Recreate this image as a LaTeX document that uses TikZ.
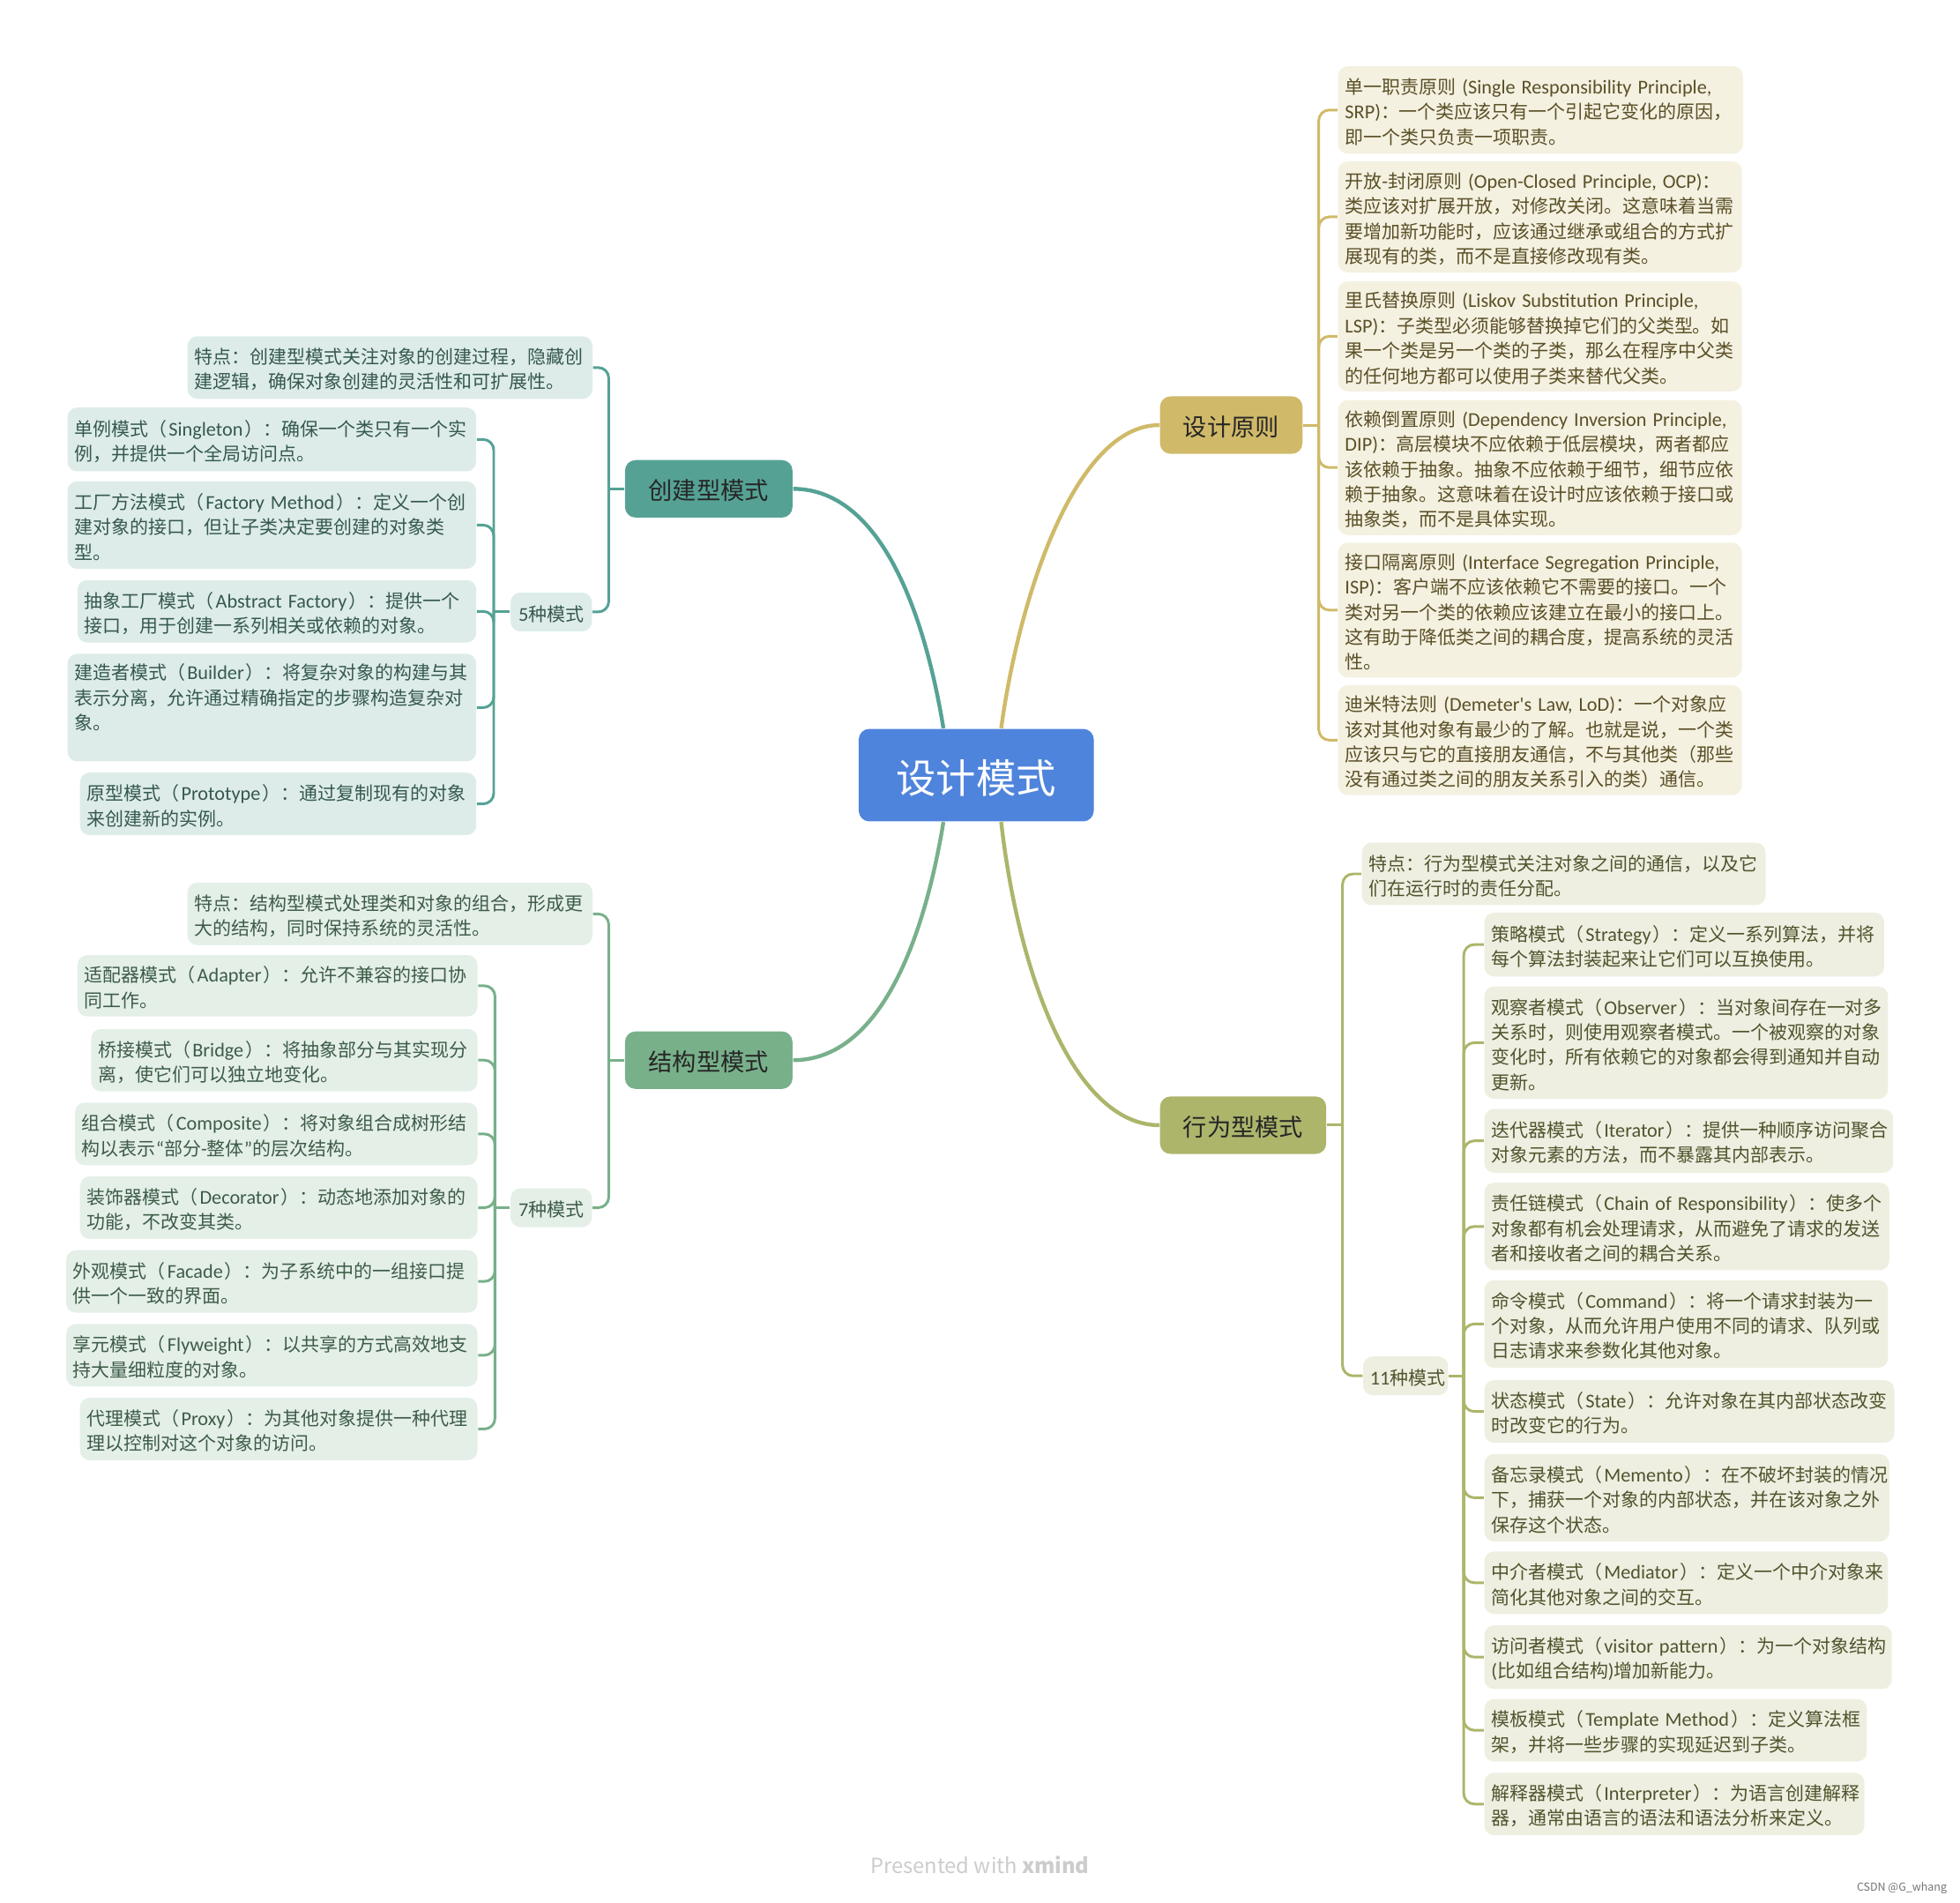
\documentclass[tikz,border=0pt]{standalone}
\usepackage{fontspec}
\setmainfont{Noto Sans CJK SC}
\newfontfamily\latinfont[Scale=1.06]{Carlito}
\newcommand{\en}[1]{{\latinfont #1}}
\newcommand{\modename}[1]{（\kern0.6pt\en{#1}\kern0.6pt）：}
\newcommand{\unitpx}{0.14177mm}
\definecolor{rootblue}{HTML}{4F84DC}
\definecolor{creline}{HTML}{55A295}
\definecolor{crefill}{HTML}{DDECE9}
\definecolor{cretext}{HTML}{35584F}
\definecolor{strline}{HTML}{78B08A}
\definecolor{strfill}{HTML}{E4EFE8}
\definecolor{strtext}{HTML}{3D5C47}
\definecolor{priline}{HTML}{D0BA69}
\definecolor{prifill}{HTML}{F4F1E1}
\definecolor{pritext}{HTML}{5A4F26}
\definecolor{behline}{HTML}{ADB56B}
\definecolor{behfill}{HTML}{EEEFE1}
\definecolor{behtext}{HTML}{50542C}
\tikzset{
  wh/.style 2 args={text width=#1*\unitpx-11*\unitpx,minimum height=#2*\unitpx},
  leaf/.style={anchor=west,rounded corners=1.1mm,align=left,inner xsep=5.5*\unitpx,inner ysep=0pt,font=\fontsize{5.97}{8.07}\selectfont,
    execute at begin node={\hyphenpenalty=10000\exhyphenpenalty=10000\rule{0pt}{6.3pt}}},
  crebox/.style={leaf,fill=crefill,text=cretext},
  strbox/.style={leaf,fill=strfill,text=strtext},
  pribox/.style={leaf,fill=prifill,text=pritext},
  behbox/.style={leaf,fill=behfill,text=behtext},
  topic/.style={rounded corners=1.2mm,inner sep=0pt,minimum height=46*\unitpx,text=black!85,font=\fontsize{7.75}{9}\selectfont,
    execute at begin node={\rule{0pt}{7.6pt}}},
  curve/.style={line width=1.25pt},
  stub/.style={line width=0.85pt},
  bus/.style={line width=0.85pt,rounded corners=1.2mm}
}
\begin{document}
\begin{tikzpicture}[x=0.14177mm,y=-0.14177mm]
\useasboundingbox (0,0) rectangle (1568,1522);

\node[fill=rootblue,rounded corners=1.2mm,inner sep=0pt,minimum width=188*\unitpx,minimum height=74*\unitpx,text=white,font=\fontsize{12.9}{15}\selectfont,execute at begin node={\rule{0pt}{12.9pt}}] (root) at (781,620) {设计模式};

\node[topic,fill=creline,minimum width=134*\unitpx] (cre) at (567,391) {创建型模式};
\node[topic,fill=strline,minimum width=134*\unitpx] (str) at (567,848) {结构型模式};
\node[topic,fill=priline,minimum width=114*\unitpx] (pri) at (985,340) {设计原则};
\node[topic,fill=behline,minimum width=133*\unitpx] (beh) at (994.5,900) {行为型模式};

\draw[curve,creline] (cre.east) .. controls +(66,0) and +(-17,-103) .. (root.125);
\draw[curve,priline] (pri.west) .. controls +(-68,0) and +(14,-103) .. (root.62);
\draw[curve,strline] (str.east) .. controls +(66,0) and +(-17,103) .. (root.235);
\draw[curve,behline] (beh.west) .. controls +(-68,0) and +(14,123) .. (root.298);

\node[crebox,wh={324}{50}] (crenote) at (149.5,294) {特点：创建型模式关注对象的创建过程，隐藏创\\建逻辑，确保对象创建的灵活性和可扩展性。};
\node[crebox,wh={65}{31},align=center] (crekinds) at (408,489.5) {\en{5}种模式};
\node[crebox,wh={327}{51}] (single) at (53.5,351.5) {单例模式\modename{Singleton}确保一个类只有一个实\\例，并提供一个全局访问点。};
\node[crebox,wh={327}{70}] (factory) at (53.5,420) {工厂方法模式\modename{Factory~Method}定义一个创\\建对象的接口，但让子类决定要创建的对象类\\型。};
\node[crebox,wh={319}{50}] (abstract) at (61.5,489) {抽象工厂模式\modename{Abstract~Factory}提供一个\\接口，用于创建一系列相关或依赖的对象。};
\node[crebox,wh={327}{86}] (builder) at (53.5,566) {建造者模式\modename{Builder}将复杂对象的构建与其\\表示分离，允许通过精确指定的步骤构造复杂对\\象。\\\mbox{}};
\node[crebox,wh={317}{50}] (proto) at (63.5,643) {原型模式\modename{Prototype}通过复制现有的对象\\来创建新的实例。};

\coordinate (crehub) at (487,391);
\coordinate (crekindshub) at (395,489.5);
\draw[stub,creline] (cre.west) -- (crehub);
\draw[stub,creline] (crekinds.west) -- (crekindshub);
\foreach \leafname in {crenote,crekinds}
  \draw[bus,creline] (crehub) |- (\leafname.east);
\foreach \leafname in {single,factory,abstract,builder,proto}
  \draw[bus,creline] (crekindshub) |- (\leafname.east);

\node[strbox,wh={324}{50}] (strnote) at (149.5,731) {特点：结构型模式处理类和对象的组合，形成更\\大的结构，同时保持系统的灵活性。};
\node[strbox,wh={65}{31},align=center] (strkinds) at (408,966) {\en{7}种模式};
\node[strbox,wh={320}{49}] (adapter) at (61.5,788.5) {适配器模式\modename{Adapter}允许不兼容的接口协\\同工作。};
\node[strbox,wh={309}{50}] (bridge) at (72.5,848) {桥接模式\modename{Bridge}将抽象部分与其实现分\\离，使它们可以独立地变化。};
\node[strbox,wh={322}{50}] (composite) at (59.5,907) {组合模式\modename{Composite}将对象组合成树形结\\构以表示\en{“}部分\en{-}整体\en{”}的层次结构。};
\node[strbox,wh={318}{50}] (decorator) at (63.5,966) {装饰器模式\modename{Decorator}动态地添加对象的\\功能，不改变其类。};
\node[strbox,wh={329}{50}] (facade) at (52.5,1025) {外观模式\modename{Facade}为子系统中的一组接口提\\供一个一致的界面。};
\node[strbox,wh={329}{50}] (flyweight) at (52.5,1084) {享元模式\modename{Flyweight}以共享的方式高效地支\\持大量细粒度的对象。};
\node[strbox,wh={318}{50}] (proxy) at (63.5,1143) {代理模式\modename{Proxy}为其他对象提供一种代理\\理以控制对这个对象的访问。};

\coordinate (strhub) at (487,848);
\coordinate (strkindshub) at (396,966);
\draw[stub,strline] (str.west) -- (strhub);
\draw[stub,strline] (strkinds.west) -- (strkindshub);
\foreach \leafname in {strnote,strkinds}
  \draw[bus,strline] (strhub) |- (\leafname.east);
\foreach \leafname in {adapter,bridge,composite,decorator,facade,flyweight,proxy}
  \draw[bus,strline] (strkindshub) |- (\leafname.east);

\node[pribox,wh={324}{70}] (srp) at (1070,88) {单一职责原则\en{~(Single~Responsibility~Principle,}\\\en{SRP)}：一个类应该只有一个引起它变化的原因，\\即一个类只负责一项职责。};
\node[pribox,wh={323}{89}] (ocp) at (1070,173.5) {开放\en{-}封闭原则\en{~(Open-Closed~Principle,~OCP)}：\\类应该对扩展开放，对修改关闭。这意味着当需\\要增加新功能时，应该通过继承或组合的方式扩\\展现有的类，而不是直接修改现有类。};
\node[pribox,wh={323}{88}] (lsp) at (1070,269) {里氏替换原则\en{~(Liskov~Substitution~Principle,}\\\en{LSP)}：子类型必须能够替换掉它们的父类型。如\\果一个类是另一个类的子类，那么在程序中父类\\的任何地方都可以使用子类来替代父类。};
\node[pribox,wh={323}{108}] (dip) at (1070,374) {依赖倒置原则\en{~(Dependency~Inversion~Principle,}\\\en{DIP)}：高层模块不应依赖于低层模块，两者都应\\该依赖于抽象。抽象不应依赖于细节，细节应依\\赖于抽象。这意味着在设计时应该依赖于接口或\\抽象类，而不是具体实现。};
\node[pribox,wh={323}{108}] (isp) at (1070,488) {接口隔离原则\en{~(Interface~Segregation~Principle,}\\\en{ISP)}：客户端不应该依赖它不需要的接口。一个\\类对另一个类的依赖应该建立在最小的接口上。\\这有助于降低类之间的耦合度，提高系统的灵活\\性。};
\node[pribox,wh={323}{88}] (lod) at (1070,592) {迪米特法则\en{~(Demeter's~Law,~LoD)}：一个对象应\\该对其他对象有最少的了解。也就是说，一个类\\应该只与它的直接朋友通信，不与其他类（那些\\没有通过类之间的朋友关系引入的类）通信。};

\coordinate (prihub) at (1055,340);
\draw[stub,priline] (pri.east) -- (prihub);
\foreach \leafname in {srp,ocp,lsp,dip,isp,lod}
  \draw[bus,priline] (prihub) |- (\leafname.west);

\node[behbox,wh={323}{50}] (behnote) at (1089,699) {特点：行为型模式关注对象之间的通信，以及它\\们在运行时的责任分配。};
\node[behbox,wh={68}{31},align=center] (behkinds) at (1090,1100.5) {\en{11}种模式};
\node[behbox,wh={320}{51}] (strategy) at (1187,755.5) {策略模式\modename{Strategy}定义一系列算法，并将\\每个算法封装起来让它们可以互换使用。};
\node[behbox,wh={323}{90}] (observer) at (1187,834) {观察者模式\modename{Observer}当对象间存在一对多\\关系时，则使用观察者模式。一个被观察的对象\\变化时，所有依赖它的对象都会得到通知并自动\\更新。};
\node[behbox,wh={327}{51}] (iterator) at (1187,912.5) {迭代器模式\modename{Iterator}提供一种顺序访问聚合\\对象元素的方法，而不暴露其内部表示。};
\node[behbox,wh={324}{70}] (chain) at (1187,981) {责任链模式\modename{Chain~of~Responsibility}使多个\\对象都有机会处理请求，从而避免了请求的发送\\者和接收者之间的耦合关系。};
\node[behbox,wh={323}{70}] (command) at (1187,1059) {命令模式\modename{Command}将一个请求封装为一\\个对象，从而允许用户使用不同的请求、队列或\\日志请求来参数化其他对象。};
\node[behbox,wh={328}{50}] (state) at (1187,1129) {状态模式\modename{State}允许对象在其内部状态改变\\时改变它的行为。};
\node[behbox,wh={324}{70}] (memento) at (1187,1198) {备忘录模式\modename{Memento}在不破坏封装的情况\\下，捕获一个对象的内部状态，并在该对象之外\\保存这个状态。};
\node[behbox,wh={323}{50}] (mediator) at (1187,1266) {中介者模式\modename{Mediator}定义一个中介对象来\\简化其他对象之间的交互。};
\node[behbox,wh={326}{51}] (visitor) at (1187,1325.5) {访问者模式\modename{visitor~pattern}为一个对象结构\\\en{(}比如组合结构\en{)}增加新能力。};
\node[behbox,wh={306}{50}] (template) at (1187,1384) {模板模式\modename{Template~Method}定义算法框\\架，并将一些步骤的实现延迟到子类。};
\node[behbox,wh={304}{50}] (interpreter) at (1187,1443) {解释器模式\modename{Interpreter}为语言创建解释\\器，通常由语言的语法和语法分析来定义。};

\coordinate (behhub) at (1074,900);
\coordinate (behkindshub) at (1171,1100.5);
\draw[stub,behline] (beh.east) -- (behhub);
\draw[stub,behline] (behkinds.east) -- (behkindshub);
\foreach \leafname in {behnote,behkinds}
  \draw[bus,behline] (behhub) |- (\leafname.west);
\foreach \leafname in {strategy,observer,iterator,chain,command,state,memento,mediator,visitor,template,interpreter}
  \draw[bus,behline] (behkindshub) |- (\leafname.west);

\node[text=black!20,font=\fontsize{6.75}{9}\selectfont] (xmindmark) at (784,1492) {Presented with \textbf{xmind}};
\node[text=black!55,anchor=east,inner sep=0pt,font=\fontsize{3.55}{5}\selectfont] (csdnmark) at (1558,1510) {CSDN @G\_whang};
\end{tikzpicture}
\end{document}
